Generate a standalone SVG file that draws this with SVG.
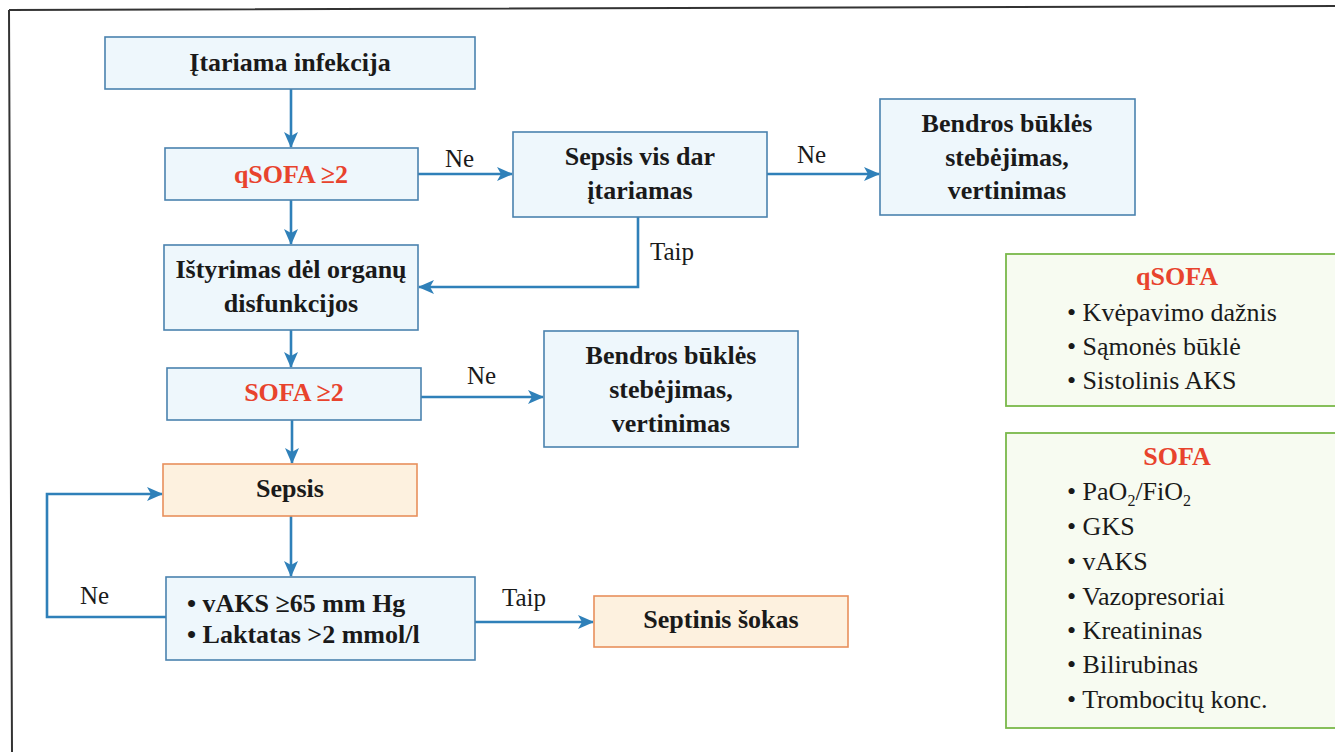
<svg xmlns="http://www.w3.org/2000/svg" width="1335" height="752" viewBox="0 0 1335 752">
<defs>
<style>
.bx{fill:#eef7fc;stroke:#4a82ae;stroke-width:1.6}
.or{fill:#fdf1df;stroke:#e8905c;stroke-width:1.6}
.gr{fill:#f7fbf1;stroke:#79b84a;stroke-width:1.8}
.t{font-family:"Liberation Serif","Times New Roman",serif;font-size:26px;font-weight:bold;fill:#1a1a1a;text-anchor:middle}
.r{fill:#e8432d}
.lb{font-family:"Liberation Serif","Times New Roman",serif;font-size:25px;fill:#1a1a1a}
.li{font-family:"Liberation Serif","Times New Roman",serif;font-size:26px;fill:#1a1a1a}
.c{fill:none;stroke:#2f80b9;stroke-width:2.6}
</style>
<marker id="ah" markerUnits="userSpaceOnUse" markerWidth="18" markerHeight="14" refX="15" refY="7" orient="auto">
<path d="M0,0 L16,7 L0,14 L4,7 z" fill="#2f80b9"/>
</marker>
</defs>
<rect width="1335" height="752" fill="#ffffff"/>
<path d="M9,10 L1335,6 M9,10 L12,752" fill="none" stroke="#333" stroke-width="2"/>

<g id="connectors">
<path class="c" d="M291,89 V147" marker-end="url(#ah)"/>
<path class="c" d="M291,200 V244" marker-end="url(#ah)"/>
<path class="c" d="M418,174 H512" marker-end="url(#ah)"/>
<path class="c" d="M767,174 H879" marker-end="url(#ah)"/>
<path class="c" d="M638,217 V287 H419" marker-end="url(#ah)"/>
<path class="c" d="M291,330 V367" marker-end="url(#ah)"/>
<path class="c" d="M421,397 H543" marker-end="url(#ah)"/>
<path class="c" d="M292,420 V463" marker-end="url(#ah)"/>
<path class="c" d="M291,516 V576" marker-end="url(#ah)"/>
<path class="c" d="M475,622 H593" marker-end="url(#ah)"/>
<path class="c" d="M166,617 H47 V494 H162" marker-end="url(#ah)"/>
<text class="lb" x="445" y="167">Ne</text>
<text class="lb" x="797" y="163">Ne</text>
<text class="lb" x="650" y="260">Taip</text>
<text class="lb" x="467" y="384">Ne</text>
<text class="lb" x="502" y="606">Taip</text>
<text class="lb" x="80" y="604">Ne</text>
</g>

<g id="n-infekcija">
<rect class="bx" x="105" y="37" width="370" height="52"/>
<text class="t" x="290" y="71">Įtariama infekcija</text>
</g>
<g id="n-qsofa">
<rect class="bx" x="165" y="148" width="253" height="52"/>
<text class="t r" x="291" y="183">qSOFA ≥2</text>
</g>
<g id="n-istyrimas">
<rect class="bx" x="164" y="245" width="254" height="85"/>
<text class="t" x="291" y="278">Ištyrimas dėl organų</text>
<text class="t" x="291" y="312">disfunkcijos</text>
</g>
<g id="n-sepsis-vis-dar">
<rect class="bx" x="513" y="132" width="254" height="85"/>
<text class="t" x="640" y="165">Sepsis vis dar</text>
<text class="t" x="640" y="199">įtariamas</text>
</g>
<g id="n-bendros-1">
<rect class="bx" x="880" y="99" width="255" height="116"/>
<text class="t" x="1007" y="132">Bendros būklės</text>
<text class="t" x="1007" y="166">stebėjimas,</text>
<text class="t" x="1007" y="199">vertinimas</text>
</g>
<g id="n-sofa">
<rect class="bx" x="167" y="368" width="254" height="52"/>
<text class="t r" x="294" y="401">SOFA ≥2</text>
</g>
<g id="n-bendros-2">
<rect class="bx" x="544" y="331" width="254" height="116"/>
<text class="t" x="671" y="364">Bendros būklės</text>
<text class="t" x="671" y="398">stebėjimas,</text>
<text class="t" x="671" y="432">vertinimas</text>
</g>
<g id="n-sepsis">
<rect class="or" x="163" y="464" width="254" height="52"/>
<text class="t" x="290" y="497">Sepsis</text>
</g>
<g id="n-vaks">
<rect class="bx" x="166" y="577" width="309" height="83"/>
<text class="t" x="187" y="612" text-anchor="start" style="text-anchor:start">• vAKS ≥65 mm Hg</text>
<text class="t" x="187" y="643" style="text-anchor:start">• Laktatas &gt;2 mmol/l</text>
</g>
<g id="n-septinis">
<rect class="or" x="594" y="596" width="254" height="51"/>
<text class="t" x="721" y="628">Septinis šokas</text>
</g>

<g id="legend-qsofa">
<rect class="gr" x="1006" y="254" width="340" height="152"/>
<text class="t r" x="1177" y="285">qSOFA</text>
<text class="li" x="1067" y="321">• Kvėpavimo dažnis</text>
<text class="li" x="1067" y="355">• Sąmonės būklė</text>
<text class="li" x="1067" y="389">• Sistolinis AKS</text>
</g>
<g id="legend-sofa">
<rect class="gr" x="1006" y="433" width="340" height="295"/>
<text class="t r" x="1177" y="465">SOFA</text>
<text class="li" x="1067" y="500">• PaO<tspan font-size="16" dy="6">2</tspan><tspan dy="-6">/FiO</tspan><tspan font-size="16" dy="6">2</tspan></text>
<text class="li" x="1067" y="535">• GKS</text>
<text class="li" x="1067" y="570">• vAKS</text>
<text class="li" x="1067" y="605">• Vazopresoriai</text>
<text class="li" x="1067" y="639">• Kreatininas</text>
<text class="li" x="1067" y="673">• Bilirubinas</text>
<text class="li" x="1067" y="708">• Trombocitų konc.</text>
</g>
</svg>
